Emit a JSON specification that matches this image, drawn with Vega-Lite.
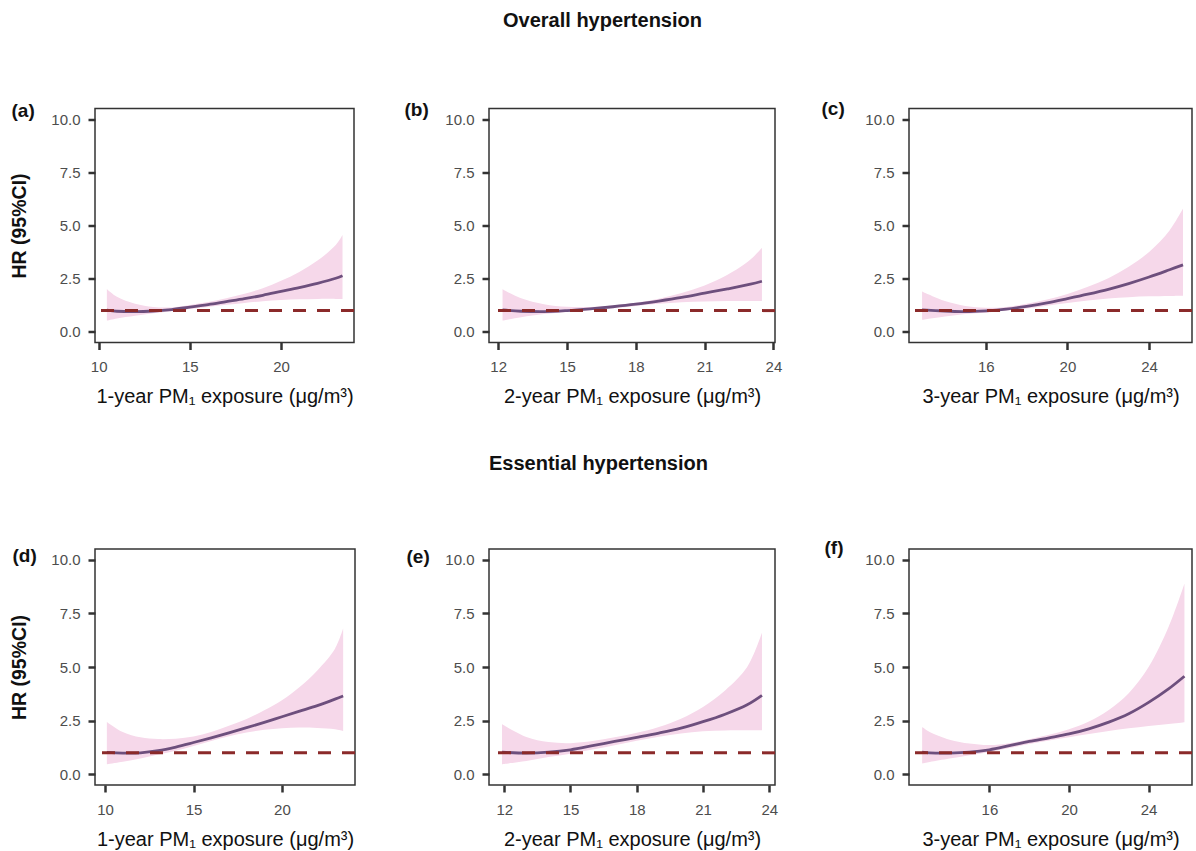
{
  "$schema": "https://vega.github.io/schema/vega-lite/v6.json",
  "padding": {"top": 9.5, "left": 9, "right": 0, "bottom": 0},
  "background": "white",
  "config": {
    "font": "Liberation Sans",
    "view": {"stroke": "#333333", "strokeWidth": 1.5},
    "axis": {"grid": false, "domain": false, "tickColor": "#333333", "tickWidth": 2.5, "tickSize": 7, "labelFontSize": 15, "labelColor": "#4d4d4d", "titleFontSize": 20, "titleFontWeight": "normal", "titleColor": "#111111"},
    "axisX": {"labelPadding": 10, "titlePadding": 12},
    "axisY": {"labelPadding": 8, "titlePadding": 21, "titleFontWeight": "bold", "titleFontSize": 19.5},
    "title": {"color": "#111111"}
  },
  "datasets": {
    "a": [
      {"x": 10.45, "hr": 1.02, "lo": 0.53, "hi": 2.02},
      {"x": 11, "hr": 0.97, "lo": 0.63, "hi": 1.65},
      {"x": 12, "hr": 0.95, "lo": 0.76, "hi": 1.32},
      {"x": 13, "hr": 0.98, "lo": 0.87, "hi": 1.17},
      {"x": 14, "hr": 1.05, "lo": 0.97, "hi": 1.15},
      {"x": 15, "hr": 1.16, "lo": 1.07, "hi": 1.26},
      {"x": 16, "hr": 1.28, "lo": 1.17, "hi": 1.40},
      {"x": 17, "hr": 1.42, "lo": 1.27, "hi": 1.58},
      {"x": 18, "hr": 1.56, "lo": 1.36, "hi": 1.79},
      {"x": 19, "hr": 1.72, "lo": 1.44, "hi": 2.05},
      {"x": 20, "hr": 1.90, "lo": 1.50, "hi": 2.40},
      {"x": 21, "hr": 2.08, "lo": 1.53, "hi": 2.82},
      {"x": 22, "hr": 2.28, "lo": 1.55, "hi": 3.35},
      {"x": 23, "hr": 2.52, "lo": 1.55, "hi": 4.08},
      {"x": 23.37, "hr": 2.64, "lo": 1.54, "hi": 4.55}
    ],
    "b": [
      {"x": 12.19, "hr": 1.03, "lo": 0.53, "hi": 2.0},
      {"x": 13, "hr": 0.97, "lo": 0.69, "hi": 1.58},
      {"x": 14, "hr": 0.95, "lo": 0.84, "hi": 1.30},
      {"x": 15, "hr": 1.0, "lo": 0.93, "hi": 1.18},
      {"x": 16, "hr": 1.08, "lo": 1.02, "hi": 1.17},
      {"x": 17, "hr": 1.18, "lo": 1.11, "hi": 1.24},
      {"x": 18, "hr": 1.30, "lo": 1.22, "hi": 1.37},
      {"x": 19, "hr": 1.45, "lo": 1.32, "hi": 1.56},
      {"x": 20, "hr": 1.62, "lo": 1.39, "hi": 1.83},
      {"x": 21, "hr": 1.82, "lo": 1.43, "hi": 2.18},
      {"x": 22, "hr": 2.02, "lo": 1.45, "hi": 2.68},
      {"x": 23, "hr": 2.24, "lo": 1.45, "hi": 3.4},
      {"x": 23.5, "hr": 2.38, "lo": 1.45, "hi": 3.95}
    ],
    "c": [
      {"x": 12.88, "hr": 1.03, "lo": 0.56, "hi": 1.9},
      {"x": 14, "hr": 0.98, "lo": 0.72, "hi": 1.45},
      {"x": 15, "hr": 0.95, "lo": 0.84, "hi": 1.22},
      {"x": 16, "hr": 0.99, "lo": 0.90, "hi": 1.13},
      {"x": 17, "hr": 1.07, "lo": 1.0, "hi": 1.17},
      {"x": 18, "hr": 1.2, "lo": 1.1, "hi": 1.32},
      {"x": 19, "hr": 1.36, "lo": 1.23, "hi": 1.52},
      {"x": 20, "hr": 1.56, "lo": 1.36, "hi": 1.78},
      {"x": 21, "hr": 1.77, "lo": 1.48, "hi": 2.12},
      {"x": 22, "hr": 2.0, "lo": 1.57, "hi": 2.52},
      {"x": 23, "hr": 2.27, "lo": 1.63, "hi": 3.06},
      {"x": 24, "hr": 2.58, "lo": 1.67, "hi": 3.76},
      {"x": 25, "hr": 2.92, "lo": 1.69, "hi": 4.77},
      {"x": 25.66, "hr": 3.15, "lo": 1.70, "hi": 5.8}
    ],
    "d": [
      {"x": 10.1, "hr": 1.02, "lo": 0.47, "hi": 2.44},
      {"x": 11, "hr": 0.99, "lo": 0.58, "hi": 1.97},
      {"x": 12, "hr": 1.0, "lo": 0.73, "hi": 1.72},
      {"x": 13, "hr": 1.1, "lo": 0.92, "hi": 1.64},
      {"x": 14, "hr": 1.27, "lo": 1.1, "hi": 1.66},
      {"x": 15, "hr": 1.48, "lo": 1.32, "hi": 1.76},
      {"x": 16, "hr": 1.70, "lo": 1.55, "hi": 1.97},
      {"x": 17, "hr": 1.93, "lo": 1.77, "hi": 2.26},
      {"x": 18, "hr": 2.17, "lo": 1.95, "hi": 2.58},
      {"x": 19, "hr": 2.42, "lo": 2.07, "hi": 2.98},
      {"x": 20, "hr": 2.68, "lo": 2.15, "hi": 3.45},
      {"x": 21, "hr": 2.94, "lo": 2.18, "hi": 4.07},
      {"x": 22, "hr": 3.2, "lo": 2.16, "hi": 4.84},
      {"x": 23, "hr": 3.5, "lo": 2.1, "hi": 5.85},
      {"x": 23.46, "hr": 3.65, "lo": 2.02, "hi": 6.79}
    ],
    "e": [
      {"x": 11.9, "hr": 1.03, "lo": 0.47, "hi": 2.33},
      {"x": 13, "hr": 0.99, "lo": 0.62, "hi": 1.74},
      {"x": 14, "hr": 1.03, "lo": 0.80, "hi": 1.50},
      {"x": 15, "hr": 1.14, "lo": 0.96, "hi": 1.45},
      {"x": 16, "hr": 1.33, "lo": 1.15, "hi": 1.55},
      {"x": 17, "hr": 1.53, "lo": 1.35, "hi": 1.72},
      {"x": 18, "hr": 1.72, "lo": 1.56, "hi": 1.93},
      {"x": 19, "hr": 1.92, "lo": 1.75, "hi": 2.2},
      {"x": 20, "hr": 2.15, "lo": 1.9, "hi": 2.59},
      {"x": 21, "hr": 2.45, "lo": 2.0, "hi": 3.14},
      {"x": 22, "hr": 2.8, "lo": 2.04, "hi": 3.91},
      {"x": 23, "hr": 3.24, "lo": 2.05, "hi": 5.0},
      {"x": 23.67, "hr": 3.68, "lo": 2.05, "hi": 6.6}
    ],
    "f": [
      {"x": 12.62, "hr": 1.03, "lo": 0.5, "hi": 2.2},
      {"x": 13, "hr": 1.0, "lo": 0.57, "hi": 1.97},
      {"x": 14, "hr": 0.99, "lo": 0.73, "hi": 1.61},
      {"x": 15, "hr": 1.03, "lo": 0.89, "hi": 1.43},
      {"x": 16, "hr": 1.14, "lo": 1.04, "hi": 1.36},
      {"x": 17, "hr": 1.33, "lo": 1.22, "hi": 1.45},
      {"x": 18, "hr": 1.53, "lo": 1.41, "hi": 1.63},
      {"x": 19, "hr": 1.7, "lo": 1.58, "hi": 1.84},
      {"x": 20, "hr": 1.88, "lo": 1.73, "hi": 2.1},
      {"x": 21, "hr": 2.12, "lo": 1.88, "hi": 2.46},
      {"x": 22, "hr": 2.43, "lo": 2.02, "hi": 3.0},
      {"x": 23, "hr": 2.82, "lo": 2.14, "hi": 3.78},
      {"x": 24, "hr": 3.35, "lo": 2.25, "hi": 5.0},
      {"x": 25, "hr": 3.98, "lo": 2.34, "hi": 6.86},
      {"x": 25.8, "hr": 4.57, "lo": 2.42, "hi": 8.88}
    ]
  },
  "columns": 3,
  "spacing": {"row": 206.5, "column": 134},
  "bounds": "flush",
  "concat": [
    {
      "width": 259, "height": 234,
      "resolve": {"axis": {"x": "independent"}},
      "layer": [
        {"data": {"name": "a"}, "mark": {"type": "area", "color": "#f6d8ea", "interpolate": "catmull-rom"},
         "encoding": {
           "x": {"field": "x", "type": "quantitative", "scale": {"domain": [9.8, 24.0], "nice": false, "zero": false}, "axis": {"values": [10, 15, 20], "format": "d", "title": "1-year PM₁ exposure (μg/m³)"}},
           "y": {"field": "lo", "type": "quantitative", "scale": {"domain": [-0.5, 10.5], "nice": false, "zero": false}, "axis": {"values": [0, 2.5, 5, 7.5, 10], "format": ".1f", "title": "HR (95%CI)"}},
           "y2": {"field": "hi"}}},
        {"data": {"name": "a"}, "mark": {"type": "line", "color": "#6d4f7d", "strokeWidth": 2.8, "interpolate": "catmull-rom"},
         "encoding": {
           "x": {"field": "x", "type": "quantitative", "axis": {"orient": "top", "labels": false, "ticks": false, "title": "(a)", "titleX": -84, "titleY": 2, "titleAngle": 0, "titleAlign": "left", "titleBaseline": "middle", "titleFontWeight": "bold", "titleFontSize": 19}},
           "y": {"field": "hr", "type": "quantitative", "axis": {"title": "HR (95%CI)"}}}},
        {"data": {"values": [{}]}, "mark": {"type": "rule", "color": "#8b2a2a", "strokeWidth": 3, "strokeDash": [13, 11]},
         "encoding": {"y": {"datum": 1}}}
      ]
    },
    {
      "width": 286, "height": 234,
      "title": {"text": "Overall hypertension", "fontSize": 20, "fontWeight": "bold", "anchor": "start", "align": "left", "frame": "group", "dx": 14, "baseline": "alphabetic", "offset": 53.5},
      "resolve": {"axis": {"x": "independent"}},
      "layer": [
        {"data": {"name": "b"}, "mark": {"type": "area", "color": "#f6d8ea", "interpolate": "catmull-rom"},
         "encoding": {
           "x": {"field": "x", "type": "quantitative", "scale": {"domain": [11.6, 24.07], "nice": false, "zero": false}, "axis": {"values": [12, 15, 18, 21, 24], "format": "d", "title": "2-year PM₁ exposure (μg/m³)"}},
           "y": {"field": "lo", "type": "quantitative", "scale": {"domain": [-0.5, 10.5], "nice": false, "zero": false}, "axis": {"values": [0, 2.5, 5, 7.5, 10], "format": ".1f", "title": null}},
           "y2": {"field": "hi"}}},
        {"data": {"name": "b"}, "mark": {"type": "line", "color": "#6d4f7d", "strokeWidth": 2.8, "interpolate": "catmull-rom"},
         "encoding": {
           "x": {"field": "x", "type": "quantitative", "axis": {"orient": "top", "labels": false, "ticks": false, "title": "(b)", "titleX": -85, "titleY": 1, "titleAngle": 0, "titleAlign": "left", "titleBaseline": "middle", "titleFontWeight": "bold", "titleFontSize": 19}},
           "y": {"field": "hr", "type": "quantitative", "axis": {"title": null}}}},
        {"data": {"values": [{}]}, "mark": {"type": "rule", "color": "#8b2a2a", "strokeWidth": 3, "strokeDash": [13, 11]},
         "encoding": {"y": {"datum": 1}}}
      ]
    },
    {
      "width": 283, "height": 234,
      "resolve": {"axis": {"x": "independent"}},
      "layer": [
        {"data": {"name": "c"}, "mark": {"type": "area", "color": "#f6d8ea", "interpolate": "catmull-rom"},
         "encoding": {
           "x": {"field": "x", "type": "quantitative", "scale": {"domain": [12.24, 26.1], "nice": false, "zero": false}, "axis": {"values": [16, 20, 24], "format": "d", "title": "3-year PM₁ exposure (μg/m³)"}},
           "y": {"field": "lo", "type": "quantitative", "scale": {"domain": [-0.5, 10.5], "nice": false, "zero": false}, "axis": {"values": [0, 2.5, 5, 7.5, 10], "format": ".1f", "title": null}},
           "y2": {"field": "hi"}}},
        {"data": {"name": "c"}, "mark": {"type": "line", "color": "#6d4f7d", "strokeWidth": 2.8, "interpolate": "catmull-rom"},
         "encoding": {
           "x": {"field": "x", "type": "quantitative", "axis": {"orient": "top", "labels": false, "ticks": false, "title": "(c)", "titleX": -88, "titleY": 0, "titleAngle": 0, "titleAlign": "left", "titleBaseline": "middle", "titleFontWeight": "bold", "titleFontSize": 19}},
           "y": {"field": "hr", "type": "quantitative", "axis": {"title": null}}}},
        {"data": {"values": [{}]}, "mark": {"type": "rule", "color": "#8b2a2a", "strokeWidth": 3, "strokeDash": [13, 11]},
         "encoding": {"y": {"datum": 1}}}
      ]
    },
    {
      "width": 260, "height": 236,
      "resolve": {"axis": {"x": "independent"}},
      "layer": [
        {"data": {"name": "d"}, "mark": {"type": "area", "color": "#f6d8ea", "interpolate": "catmull-rom"},
         "encoding": {
           "x": {"field": "x", "type": "quantitative", "scale": {"domain": [9.43, 24.13], "nice": false, "zero": false}, "axis": {"values": [10, 15, 20], "format": "d", "title": "1-year PM₁ exposure (μg/m³)"}},
           "y": {"field": "lo", "type": "quantitative", "scale": {"domain": [-0.5, 10.5], "nice": false, "zero": false}, "axis": {"values": [0, 2.5, 5, 7.5, 10], "format": ".1f", "title": "HR (95%CI)"}},
           "y2": {"field": "hi"}}},
        {"data": {"name": "d"}, "mark": {"type": "line", "color": "#6d4f7d", "strokeWidth": 2.8, "interpolate": "catmull-rom"},
         "encoding": {
           "x": {"field": "x", "type": "quantitative", "axis": {"orient": "top", "labels": false, "ticks": false, "title": "(d)", "titleX": -83, "titleY": 6, "titleAngle": 0, "titleAlign": "left", "titleBaseline": "middle", "titleFontWeight": "bold", "titleFontSize": 19}},
           "y": {"field": "hr", "type": "quantitative", "axis": {"title": "HR (95%CI)"}}}},
        {"data": {"values": [{}]}, "mark": {"type": "rule", "color": "#8b2a2a", "strokeWidth": 3, "strokeDash": [13, 11]},
         "encoding": {"y": {"datum": 1}}}
      ]
    },
    {
      "width": 286, "height": 236,
      "title": {"text": "Essential hypertension", "fontSize": 20, "fontWeight": "bold", "anchor": "start", "align": "left", "frame": "group", "dx": 0, "baseline": "alphabetic", "offset": 57},
      "resolve": {"axis": {"x": "independent"}},
      "layer": [
        {"data": {"name": "e"}, "mark": {"type": "area", "color": "#f6d8ea", "interpolate": "catmull-rom"},
         "encoding": {
           "x": {"field": "x", "type": "quantitative", "scale": {"domain": [11.31, 24.26], "nice": false, "zero": false}, "axis": {"values": [12, 15, 18, 21, 24], "format": "d", "title": "2-year PM₁ exposure (μg/m³)"}},
           "y": {"field": "lo", "type": "quantitative", "scale": {"domain": [-0.5, 10.5], "nice": false, "zero": false}, "axis": {"values": [0, 2.5, 5, 7.5, 10], "format": ".1f", "title": null}},
           "y2": {"field": "hi"}}},
        {"data": {"name": "e"}, "mark": {"type": "line", "color": "#6d4f7d", "strokeWidth": 2.8, "interpolate": "catmull-rom"},
         "encoding": {
           "x": {"field": "x", "type": "quantitative", "axis": {"orient": "top", "labels": false, "ticks": false, "title": "(e)", "titleX": -83, "titleY": 7, "titleAngle": 0, "titleAlign": "left", "titleBaseline": "middle", "titleFontWeight": "bold", "titleFontSize": 19}},
           "y": {"field": "hr", "type": "quantitative", "axis": {"title": null}}}},
        {"data": {"values": [{}]}, "mark": {"type": "rule", "color": "#8b2a2a", "strokeWidth": 3, "strokeDash": [13, 11]},
         "encoding": {"y": {"datum": 1}}}
      ]
    },
    {
      "width": 283, "height": 236,
      "resolve": {"axis": {"x": "independent"}},
      "layer": [
        {"data": {"name": "f"}, "mark": {"type": "area", "color": "#f6d8ea", "interpolate": "catmull-rom"},
         "encoding": {
           "x": {"field": "x", "type": "quantitative", "scale": {"domain": [11.96, 26.18], "nice": false, "zero": false}, "axis": {"values": [16, 20, 24], "format": "d", "title": "3-year PM₁ exposure (μg/m³)"}},
           "y": {"field": "lo", "type": "quantitative", "scale": {"domain": [-0.5, 10.5], "nice": false, "zero": false}, "axis": {"values": [0, 2.5, 5, 7.5, 10], "format": ".1f", "title": null}},
           "y2": {"field": "hi"}}},
        {"data": {"name": "f"}, "mark": {"type": "line", "color": "#6d4f7d", "strokeWidth": 2.8, "interpolate": "catmull-rom"},
         "encoding": {
           "x": {"field": "x", "type": "quantitative", "axis": {"orient": "top", "labels": false, "ticks": false, "title": "(f)", "titleX": -85, "titleY": -2, "titleAngle": 0, "titleAlign": "left", "titleBaseline": "middle", "titleFontWeight": "bold", "titleFontSize": 19}},
           "y": {"field": "hr", "type": "quantitative", "axis": {"title": null}}}},
        {"data": {"values": [{}]}, "mark": {"type": "rule", "color": "#8b2a2a", "strokeWidth": 3, "strokeDash": [13, 11]},
         "encoding": {"y": {"datum": 1}}}
      ]
    }
  ]
}
